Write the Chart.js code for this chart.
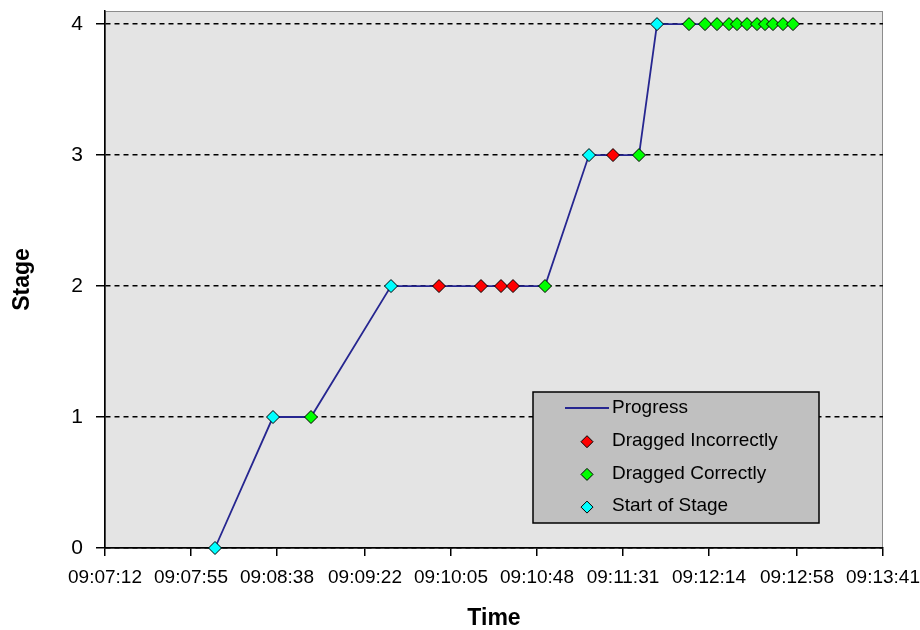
<!DOCTYPE html>
<html>
<head>
<meta charset="utf-8">
<script src="https://cdn.jsdelivr.net/npm/chart.js@4/dist/chart.umd.min.js"></script>
<style>
  html, body { margin: 0; padding: 0; background: #fff; }
</style>
</head>
<body>
<canvas id="myChart" width="920" height="630"></canvas>
<script>
const xTickLabels = [
  '09:07:12', '09:07:55', '09:08:38', '09:09:22', '09:10:05',
  '09:10:48', '09:11:31', '09:12:14', '09:12:58', '09:13:41'
];
const yTicks = [0, 1, 2, 3, 4];

// Start of Stage
const startTimes = ['09:08:07', '09:08:36', '09:09:35', '09:11:14', '09:11:48'];
const startStages = [0, 1, 2, 3, 4];

// Dragged Incorrectly
const incorrectTimes = ['09:09:59', '09:10:20', '09:10:30', '09:10:36', '09:11:26'];
const incorrectStages = [2, 2, 2, 2, 3];

// Dragged Correctly
const correctTimes = [
  '09:08:55', '09:10:52', '09:11:39',
  '09:12:04', '09:12:12', '09:12:18', '09:12:24', '09:12:28', '09:12:33',
  '09:12:38', '09:12:42', '09:12:46', '09:12:51', '09:12:56'
];
const correctStages = [1, 2, 3, 4, 4, 4, 4, 4, 4, 4, 4, 4, 4, 4];

const FONT = '"Liberation Sans", Arial, sans-serif';

function toSec(t) {
  const p = t.split(':').map(Number);
  return p[0] * 3600 + p[1] * 60 + p[2];
}
function toPoints(times, stages) {
  return times.map((t, i) => ({ x: toSec(t), y: stages[i] }));
}

const startPts = toPoints(startTimes, startStages);
const incorrectPts = toPoints(incorrectTimes, incorrectStages);
const correctPts = toPoints(correctTimes, correctStages);
// the progress line runs through every event in time order
const progressPts = startPts.concat(incorrectPts, correctPts).sort((a, b) => a.x - b.x);

const plotBackground = {
  id: 'plotBackground',
  beforeDraw(chart) {
    const { ctx, chartArea: a } = chart;
    ctx.save();
    ctx.fillStyle = '#e4e4e4';
    ctx.fillRect(a.left, a.top, a.right - a.left, a.bottom - a.top);
    ctx.strokeStyle = '#8c8c8c';
    ctx.lineWidth = 1;
    ctx.strokeRect(a.left + 0.5, a.top + 0.5, a.right - a.left - 1, a.bottom - a.top);
    ctx.restore();
  }
};

const boxLegend = {
  id: 'boxLegend',
  afterDraw(chart) {
    const ctx = chart.ctx;
    const a = chart.chartArea;
    const left = a.left + 428, top = a.top + 381, w = 286, h = 131;
    ctx.save();
    ctx.fillStyle = '#c0c0c0';
    ctx.fillRect(left, top, w, h);
    ctx.strokeStyle = '#000';
    ctx.lineWidth = 1.5;
    ctx.strokeRect(left, top, w, h);
    ctx.font = '19px ' + FONT;
    ctx.textBaseline = 'middle';
    chart.data.datasets.forEach((ds, i) => {
      const y = top + 16 + i * 32.7;
      if (ds.showLine) {
        ctx.strokeStyle = ds.borderColor;
        ctx.lineWidth = 2;
        ctx.beginPath();
        ctx.moveTo(left + 32, y);
        ctx.lineTo(left + 76, y);
        ctx.stroke();
      } else {
        ctx.fillStyle = ds.backgroundColor;
        ctx.strokeStyle = '#000';
        ctx.lineWidth = 1;
        Chart.helpers.drawPoint(ctx, { pointStyle: 'rectRot', radius: 6, borderWidth: 1, rotation: 0 }, left + 54, y + 1);
      }
      ctx.fillStyle = '#000';
      ctx.fillText(ds.label, left + 79, y);
    });
    ctx.restore();
  }
};

const markerBase = {
  showLine: false,
  pointStyle: 'rectRot',
  pointRadius: 6.5,
  pointBorderColor: '#000',
  pointBorderWidth: 1,
  borderColor: '#000',
  clip: false
};

const data = {
  datasets: [
    {
      label: 'Progress',
      data: progressPts,
      showLine: true,
      borderColor: '#262690',
      borderWidth: 1.8,
      pointRadius: 0,
      order: 10,
      clip: false
    },
    Object.assign({ label: 'Dragged Incorrectly', data: incorrectPts, backgroundColor: '#ff0000', pointBackgroundColor: '#ff0000', order: 1 }, markerBase),
    Object.assign({ label: 'Dragged Correctly', data: correctPts, backgroundColor: '#00ff00', pointBackgroundColor: '#00ff00', order: 1 }, markerBase),
    Object.assign({ label: 'Start of Stage', data: startPts, backgroundColor: '#00ffff', pointBackgroundColor: '#00ffff', order: 1 }, markerBase)
  ]
};

const config = {
  type: 'scatter',
  data: data,
  options: {
    responsive: false,
    animation: false,
    events: [],
    layout: { padding: { left: 0, right: 37, top: 11, bottom: 0 } },
    plugins: {
      legend: { display: false },
      tooltip: { enabled: false }
    },
    scales: {
      x: {
        type: 'linear',
        min: toSec(xTickLabels[0]),
        max: toSec(xTickLabels[xTickLabels.length - 1]),
        afterBuildTicks: s => { s.ticks = xTickLabels.map(l => ({ value: toSec(l) })); },
        afterFit: s => { s.height = 82; s.paddingLeft = 0; s.paddingRight = 0; },
        ticks: {
          callback: (v, i) => xTickLabels[i],
          font: { family: FONT, size: 19 },
          color: '#000',
          padding: 10,
          maxRotation: 0,
          autoSkip: false
        },
        grid: { drawOnChartArea: false, tickLength: 8, color: '#000', lineWidth: 1.5 },
        border: { color: '#000', width: 1.5 },
        title: {
          display: true,
          text: 'Time',
          color: '#000',
          font: { family: FONT, size: 23, weight: 'bold', lineHeight: 1 },
          padding: { top: 0, bottom: 0 }
        }
      },
      y: {
        min: 0,
        max: 4.1,
        afterBuildTicks: s => { s.ticks = yTicks.map(v => ({ value: v })); },
        afterFit: s => { s.width = 105; s.paddingTop = 0; s.paddingBottom = 0; },
        ticks: {
          font: { family: FONT, size: 21, lineHeight: 1 },
          color: '#000',
          padding: 13
        },
        grid: { color: '#000', lineWidth: 1.5, tickLength: 9, tickBorderDash: [], tickWidth: 1.5 },
        border: { color: '#000', width: 1.5, dash: [5, 4] },
        title: {
          display: true,
          text: 'Stage',
          color: '#000',
          font: { family: FONT, size: 23, weight: 'bold', lineHeight: 1 },
          padding: { top: 11, bottom: 0 }
        }
      }
    }
  },
  plugins: [plotBackground, boxLegend]
};

const myChart = new Chart(
  document.getElementById('myChart'),
  config
);
</script>
</body>
</html>
